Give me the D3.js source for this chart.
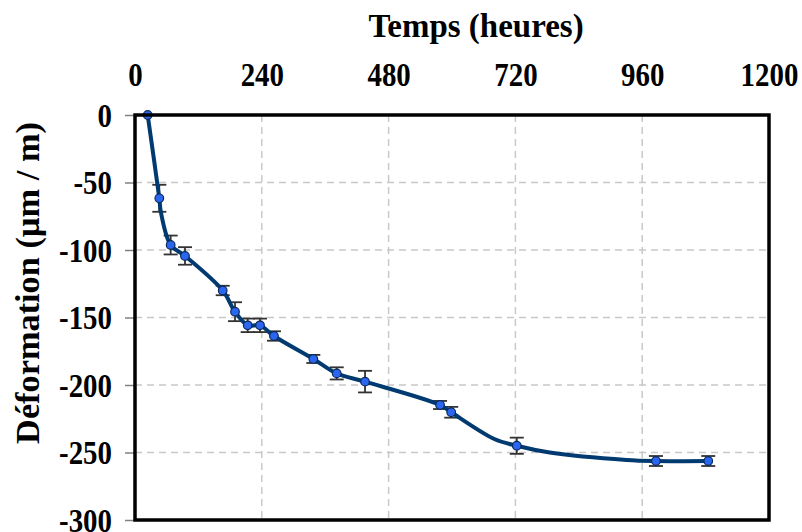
<!DOCTYPE html>
<html><head><meta charset="utf-8">
<script src="https://cdn.jsdelivr.net/npm/d3@7"></script>
<style>body{margin:0;background:#fff}svg{display:block}text{font-family:"Liberation Serif","Times New Roman",serif;font-weight:bold;fill:#000}</style>
</head><body><svg id="c" width="802" height="532"></svg>
<script>
// Data
const xTicks = [0, 240, 480, 720, 960, 1200];
const yTicks = [0, -50, -100, -150, -200, -250, -300];
// measured points (with markers and error bars)
const markTime = [24, 46, 67.5, 94.6, 166, 189.3, 213.3, 236.6, 263, 337.5, 381.8, 435.4, 577.4, 598.5, 722.6, 986, 1085];
const markDef  = [0, -61.7, -96.3, -104.4, -130, -145.7, -155.8, -155.8, -163.7, -180.7, -191.4, -197.5, -214.8, -220.2, -245, -256.3, -256.3];
const markErr  = [0, 10, 7, 6.5, 3.5, 7, 5, 5, 3.5, 3, 4.5, 8, 3, 4, 6, 3.7, 3.7];
// curve vertices (markers + unmarked vertices)
const lineTime = [24, 46, 49, 67.5, 94.6, 166, 189.3, 213.3, 236.6, 263, 337.5, 381.8, 435.4, 577.4, 598.5, 680, 722.6, 785, 930, 986, 1085];
const lineDef  = [0, -61.7, -72, -96.3, -104.4, -130, -145.7, -155.8, -155.8, -163.7, -180.7, -191.4, -197.5, -214.8, -220.2, -240, -245, -250, -255.5, -256.3, -256.3];
const xTitle = "Temps (heures)";
const yTitle = "Déformation (µm / m)";

const L = 135, T = 115, R = 769, B = 520;
const svg = d3.select("#c");
const x = d3.scaleLinear().domain([0, 1200]).range([L, R]);
const y = d3.scaleLinear().domain([0, -300]).range([T, B]);
const fmt = d => String(d);

// grid
const grid = svg.append("g").attr("stroke", "#c8c8c8").attr("stroke-width", 1.5).attr("stroke-dasharray", "7,5");
grid.selectAll("line.v").data(xTicks.slice(1, -1)).join("line")
  .attr("x1", d => x(d)).attr("x2", d => x(d)).attr("y1", T).attr("y2", B);
grid.selectAll("line.h").data(yTicks.slice(1, -1)).join("line")
  .attr("y1", d => y(d)).attr("y2", d => y(d)).attr("x1", L).attr("x2", R);

// axes
const sxTick = 0.85;
const yAxis = svg.append("g").attr("transform", `translate(${L},0)`)
  .call(d3.axisLeft(y).tickValues(yTicks).tickSize(10).tickFormat(fmt));
yAxis.select(".domain").remove();
yAxis.selectAll(".tick line").attr("stroke", "#808080").attr("stroke-width", 1.5);
yAxis.selectAll(".tick text").attr("x", -23 / sxTick).attr("dy", null)
  .attr("dominant-baseline", "central").attr("transform", `scale(${sxTick},1)`)
  .style("font-size", "34px").attr("fill", "#000");

const xAxis = svg.append("g").attr("transform", `translate(0,${T})`)
  .call(d3.axisTop(x).tickValues(xTicks).tickSize(0).tickFormat(fmt));
xAxis.select(".domain").remove();
xAxis.selectAll(".tick text").attr("y", -40).attr("dy", null)
  .attr("dominant-baseline", "central").attr("transform", `scale(${sxTick},1)`)
  .style("font-size", "34px").attr("fill", "#000");

// titles
svg.append("text").attr("transform", `translate(476,25) scale(0.97,1)`)
  .attr("text-anchor", "middle").attr("dominant-baseline", "central")
  .style("font-size", "34px").text(xTitle);
svg.append("text").attr("transform", `translate(28,283) rotate(-90) scale(1.04,1)`)
  .attr("text-anchor", "middle").attr("dominant-baseline", "central")
  .style("font-size", "33px").text(yTitle);

// error bars
const pts = markTime.map((t, i) => ({t, d: markDef[i], e: markErr[i]}));
const eb = svg.append("g").attr("stroke", "#333").attr("stroke-width", 1.8);
pts.forEach(p => {
  const cx = x(p.t), y1 = y(p.d + p.e), y2 = y(p.d - p.e);
  eb.append("line").attr("x1", cx).attr("x2", cx).attr("y1", y1).attr("y2", y2);
  eb.append("line").attr("x1", cx - 7).attr("x2", cx + 7).attr("y1", y1).attr("y2", y1);
  eb.append("line").attr("x1", cx - 7).attr("x2", cx + 7).attr("y1", y2).attr("y2", y2);
});

// curve
const lineData = lineTime.map((t, i) => [t, lineDef[i]]);
svg.append("path").datum(lineData)
  .attr("fill", "none").attr("stroke", "#003a70").attr("stroke-width", 4).attr("stroke-linejoin", "round")
  .attr("d", d3.line().x(d => x(d[0])).y(d => y(d[1])).curve(d3.curveCatmullRom.alpha(0.5)));

// markers
svg.append("g").selectAll("circle").data(pts).join("circle")
  .attr("cx", d => x(d.t)).attr("cy", d => y(d.d)).attr("r", 4.3)
  .attr("fill", "#2b66f0").attr("stroke", "#0b2a5c").attr("stroke-width", 1.2);

// frame
svg.append("rect").attr("x", L).attr("y", T).attr("width", R - L).attr("height", B - T)
  .attr("fill", "none").attr("stroke", "#000").attr("stroke-width", 3.5);
</script></body></html>
